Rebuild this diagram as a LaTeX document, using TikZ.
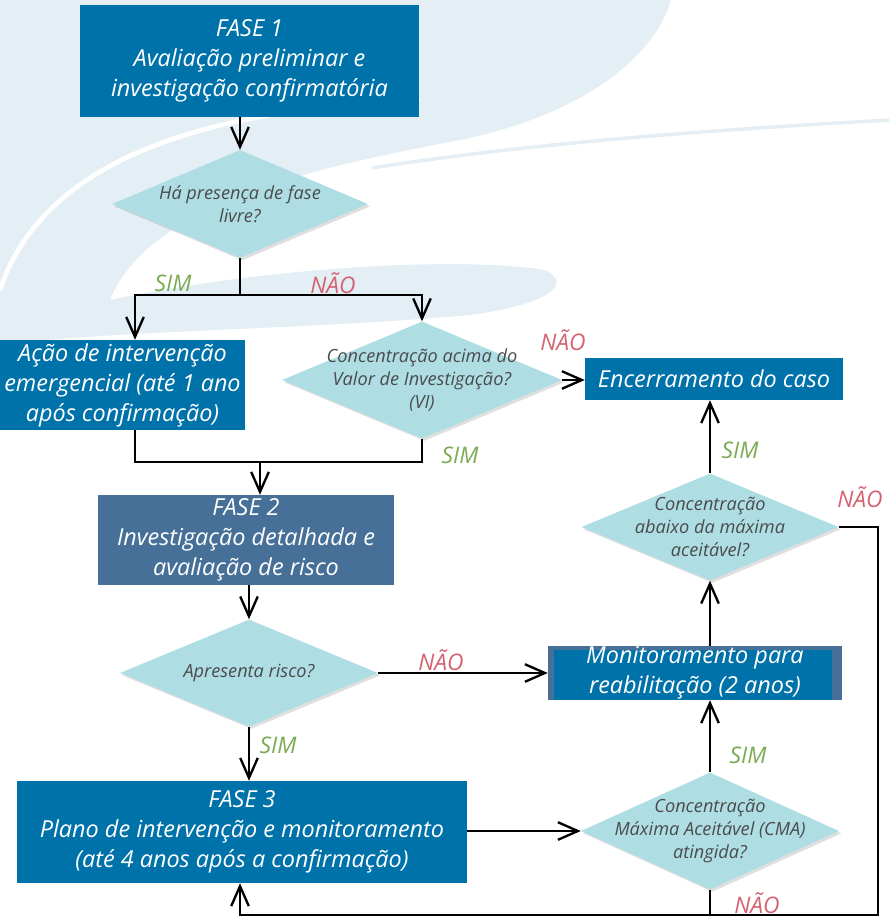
\documentclass[tikz,border=0pt]{standalone}
\usepackage{fontspec}
\setmainfont{Open Sans}
\usetikzlibrary{shapes.geometric, arrows.meta, positioning, calc, shadows}
\definecolor{faseblue}{RGB}{0,114,170}
\definecolor{faseslate}{RGB}{70,112,152}
\definecolor{decisioncyan}{RGB}{174,222,228}
\definecolor{questiongray}{RGB}{75,75,75}
\definecolor{simgreen}{RGB}{122,170,82}
\definecolor{naored}{RGB}{212,98,112}
\definecolor{swirlblue}{RGB}{228,238,245}
\newdimen\pxu
\pxu=0.03cm

\begin{document}
\begin{tikzpicture}[x=0.03cm, y=-0.03cm,
    phase/.style={fill=faseblue, text=white, inner sep=0pt, align=center,
                  font=\fontsize{20}{25.6}\selectfont\itshape},
    decision/.style={diamond, fill=decisioncyan, inner sep=0pt,
                     drop shadow={shadow xshift=2pt, shadow yshift=-2pt, opacity=0.25}},
    question/.style={text=questiongray, align=center,
                     font=\fontsize{15.5}{19.5}\selectfont\itshape},
    arr/.style={-{Straight Barb[length=17pt, width=15pt]}, line width=2pt},
    link/.style={line width=2pt},
    sim/.style={text=simgreen, font=\fontsize{19.5}{19.5}\selectfont\itshape},
    nao/.style={text=naored, font=\fontsize{19.5}{19.5}\selectfont\itshape}
]
    \useasboundingbox (0,0) rectangle (889,919);

    % background swirl
    \fill[swirlblue] (0,0) -- (671,0) .. controls (650,70) and (560,120) .. (460,140)
        .. controls (330,165) and (150,200) .. (110,300)
        .. controls (250,270) and (450,255) .. (545,270)
        .. controls (575,285) and (545,305) .. (470,315)
        .. controls (300,330) and (120,330) .. (0,345) -- cycle;
    \draw[white, line width=4pt] (0,290) .. controls (40,170) and (180,110) .. (420,100);
    \draw[swirlblue, line width=3pt] (372,168) .. controls (550,140) and (750,128) .. (889,120);

    % fase 1
    \node[phase, minimum width=339\pxu, minimum height=112\pxu] (fase1) at (249.5,61)
        {FASE 1\\Avaliação preliminar e\\investigação confirmatória};
    \node[decision, minimum width=256\pxu, minimum height=108\pxu,
          label={[question]center:{Há presença de fase\\livre?}}] (livre) at (240,204) {};
    \node[phase, minimum width=245\pxu, minimum height=90\pxu] (emerg) at (122.5,385)
        {Ação de intervenção\\emergencial (até 1 ano\\após confirmação)};
    \node[decision, minimum width=280\pxu, minimum height=117\pxu,
          label={[question]center:{Concentração acima do\\Valor de Investigação?\\(VI)}}] (vi) at (422,380) {};
    \node[phase, minimum width=258\pxu, minimum height=42\pxu] (encerra) at (714,379)
        {Encerramento do caso};

    % fase 2
    \node[phase, fill=faseslate, minimum width=296\pxu, minimum height=90\pxu] (fase2) at (246,540)
        {FASE 2\\Investigação detalhada e\\avaliação de risco};
    \node[decision, minimum width=258\pxu, minimum height=107\pxu,
          label={[question]center:{Apresenta risco?}}] (risco) at (249,673) {};
    \node[phase, fill=faseslate, minimum width=294\pxu, minimum height=54\pxu,
          path picture={\fill[faseblue] ($(path picture bounding box.south west)+(6,0)$)
                        rectangle ($(path picture bounding box.north east)+(-10,4)$);}] (monit) at (695,673)
        {Monitoramento para\\reabilitação (2 anos)};

    % fase 3
    \node[phase, minimum width=450\pxu, minimum height=102\pxu] (fase3) at (242,832)
        {FASE 3\\Plano de intervenção e monitoramento\\(até 4 anos após a confirmação)};
    \node[decision, minimum width=257\pxu, minimum height=107\pxu,
          label={[question]center:{Concentração\\abaixo da máxima\\aceitável?}}] (abaixo) at (710,527) {};
    \node[decision, minimum width=258\pxu, minimum height=117\pxu,
          label={[question]center:{Concentração\\Máxima Aceitável (CMA)\\atingida?}}] (cma) at (710,831) {};

    % junctions
    \coordinate (split1) at (240,295);
    \coordinate (merge1) at (135,462);
    \coordinate (merge2) at (260,462);
    \coordinate (loopR) at (878,527);
    \coordinate (loopB) at (240,915);

    % connectors
    \draw[arr] (fase1.south -| livre.north) -- (livre.north);
    \draw[link] (livre.south) -- (split1);
    \draw[arr] (split1) -| ($(emerg.north)+(12.5,0)$);
    \draw[arr] (split1) -| (vi.north);
    \draw[link] (vi.south) |- (merge1) -- (merge1 |- emerg.south);
    \draw[arr] (merge2) -- (merge2 |- fase2.north);
    \draw[arr] (vi.east) -- (vi.east -| encerra.west);
    \draw[arr] (fase2.south -| risco.north) -- (risco.north);
    \draw[arr] (risco.east) -- (risco.east -| monit.west);
    \draw[arr] (risco.south) -- (risco.south |- fase3.north);
    \draw[arr] (fase3.east |- cma.west) -- (cma.west);
    \draw[arr] (cma.north) -- (cma.north |- monit.south);
    \draw[arr] (monit.north -| abaixo.south) -- (abaixo.south);
    \draw[arr] (abaixo.north) -- (abaixo.north |- encerra.south);
    \draw[arr] (abaixo.east) -- (loopR) |- (loopB) -- (loopB |- fase3.south);
    \draw[link] (cma.south) -- (cma.south |- loopB);

    % labels
    \node[sim] (sim1) at (173,283) {SIM};
    \node[nao] (nao1) at (333,283) {NÃO};
    \node[nao] (nao2) at (563,340) {NÃO};
    \node[sim] (sim2) at (460,455) {SIM};
    \node[nao] (nao3) at (441,660) {NÃO};
    \node[sim] (sim3) at (278,745) {SIM};
    \node[sim] (sim4) at (740,450) {SIM};
    \node[nao] (nao4) at (860,497) {NÃO};
    \node[sim] (sim5) at (748,755) {SIM};
    \node[nao] (nao5) at (757,903) {NÃO};
\end{tikzpicture}
\end{document}
